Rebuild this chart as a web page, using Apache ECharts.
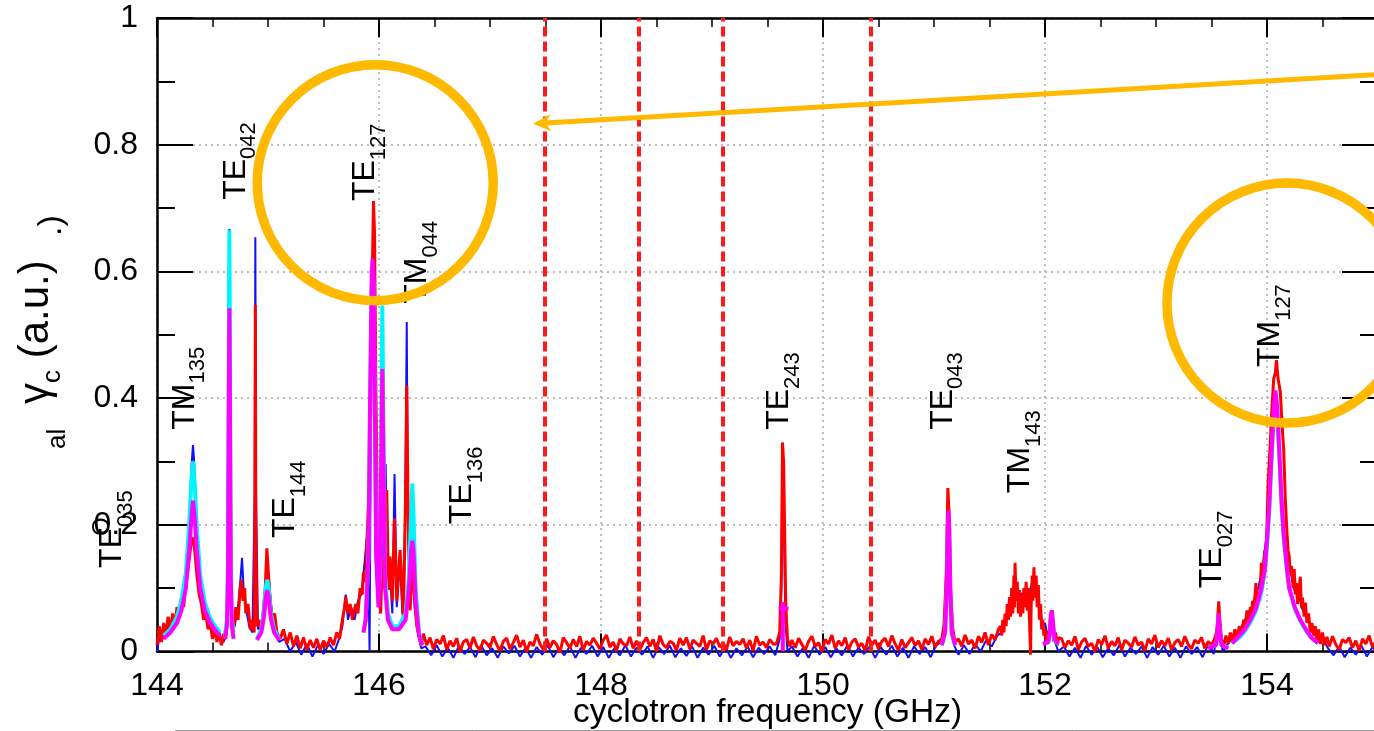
<!DOCTYPE html>
<html><head><meta charset="utf-8">
<script src="https://cdn.jsdelivr.net/npm/echarts@6/dist/echarts.min.js"></script>
<style>html,body{margin:0;padding:0;background:#fff}#c{width:1374px;height:731px}</style>
</head><body><div id="c"></div>
<script>
// ---------------- data ----------------
const xTicks = [144, 146, 148, 150, 152, 154];
const xTickLabels = ['144', '146', '148', '150', '152', '154'];
const yTicks = [0, 0.2, 0.4, 0.6, 0.8, 1];
const yTickLabels = ['0', '0.2', '0.4', '0.6', '0.8', '1'];
const xTitle = 'cyclotron frequency (GHz)';
const dashedLineX = [147.49, 148.345, 149.105, 150.43];

const blueData = [
[144.00,0.0],[144.03,0.03],[144.06,0.02],[144.09,0.045],[144.12,0.035],[144.15,0.055],[144.18,0.05],[144.21,0.075],[144.24,0.09],[144.27,0.14],[144.29,0.2],[144.31,0.29],[144.324,0.326],[144.335,0.3],[144.35,0.22],[144.37,0.15],[144.39,0.11],[144.42,0.075],[144.45,0.06],[144.48,0.04],[144.51,0.035],[144.54,0.025],[144.57,0.02],[144.60,0.015],[144.63,0.03],[144.645,0.3],[144.652,0.667],[144.66,0.3],[144.675,0.04],[144.70,0.04],[144.73,0.07],[144.75,0.11],[144.766,0.148],[144.78,0.1],[144.80,0.07],[144.83,0.04],[144.86,0.03],[144.88,0.25],[144.886,0.654],[144.892,0.25],[144.91,0.035],[144.94,0.04],[144.97,0.08],[144.99,0.13],[145.01,0.11],[145.04,0.05],[145.07,0.03],[145.10,0.015],[145.15,0.02],[145.20,0.0],[145.25,0.015],[145.30,-0.005],[145.35,0.012],[145.40,-0.008],[145.45,0.01],[145.50,-0.004],[145.55,0.012],[145.60,0.0],[145.64,0.02],[145.67,0.04],[145.70,0.09],[145.72,0.05],[145.75,0.07],[145.78,0.05],[145.81,0.08],[145.84,0.09],[145.87,0.14],[145.89,0.18],[145.905,0.12],[145.915,0.0],[145.925,0.3],[145.94,0.58],[145.955,0.6],[145.97,0.35],[145.99,0.12],[146.01,0.08],[146.03,0.2],[146.045,0.1],[146.06,0.296],[146.075,0.1],[146.10,0.12],[146.12,0.06],[146.14,0.28],[146.16,0.07],[146.19,0.145],[146.21,0.06],[146.235,0.2],[146.25,0.52],[146.26,0.2],[146.28,0.08],[146.30,0.14],[146.32,0.07],[146.35,0.03],[146.38,0.005],
[146.42,0.008],[146.47,-0.006],[146.52,0.01],[146.57,-0.008],[146.62,0.006],[146.67,-0.01],[146.72,0.009],[146.77,-0.004],[146.82,0.007],[146.87,-0.009],[146.92,0.01],[146.97,-0.006],[147.02,0.005],[147.07,-0.01],[147.12,0.008],[147.17,-0.003],[147.22,0.009],[147.27,-0.008],[147.32,0.006],[147.37,-0.01],[147.42,0.007],[147.47,-0.005],[147.52,0.01],[147.57,-0.009],[147.62,0.005],[147.67,-0.006],[147.72,0.008],[147.77,-0.01],[147.82,0.006],[147.87,-0.004],[147.92,0.009],[147.97,-0.008],[148.02,0.007],[148.07,-0.01],[148.12,0.005],[148.17,-0.006],[148.22,0.01],[148.27,-0.008],[148.32,0.006],[148.37,-0.005],[148.42,0.008],[148.47,-0.01],[148.52,0.007],[148.57,-0.004],[148.62,0.009],[148.67,-0.009],[148.72,0.005],[148.77,-0.007],[148.82,0.008],[148.87,-0.01],[148.92,0.006],[148.97,-0.005],[149.02,0.009],[149.07,-0.008],[149.12,0.007],[149.17,-0.01],[149.22,0.005],[149.27,-0.006],[149.32,0.008],[149.37,-0.009],[149.42,0.006],[149.47,-0.004],[149.52,0.008],[149.57,-0.006],
[149.61,0.02],[149.625,0.1],[149.635,0.3],[149.645,0.25],[149.66,0.05],[149.68,0.0],
[149.72,0.008],[149.77,-0.008],[149.82,0.006],[149.87,-0.01],[149.92,0.009],[149.97,-0.005],[150.02,0.007],[150.07,-0.009],[150.12,0.005],[150.17,-0.006],[150.22,0.01],[150.27,-0.008],[150.32,0.006],[150.37,-0.004],[150.42,0.008],[150.47,-0.01],[150.52,0.007],[150.57,-0.005],[150.62,0.009],[150.67,-0.008],[150.72,0.006],[150.77,-0.01],[150.82,0.008],[150.87,-0.004],[150.92,0.007],[150.97,-0.009],[151.02,0.01],[151.07,0.015],
[151.10,0.06],[151.12,0.2],[151.13,0.19],[151.15,0.06],[151.18,0.01],
[151.22,-0.005],[151.27,0.01],[151.32,-0.004],[151.37,0.012],[151.42,0.0],[151.47,0.018],[151.52,0.008],[151.57,0.025],[151.61,0.03],
[151.64,0.05],[151.67,0.07],[151.70,0.09],[151.73,0.1],[151.76,0.08],[151.79,0.09],[151.82,0.1],[151.85,0.085],[151.89,0.113],[151.92,0.095],[151.95,0.07],[151.98,0.04],[152.00,0.045],[152.03,0.02],[152.06,0.05],[152.09,0.015],[152.12,0.0],
[152.17,0.008],[152.22,-0.008],[152.27,0.006],[152.32,-0.01],[152.37,0.009],[152.42,-0.005],[152.47,0.007],[152.52,-0.009],[152.57,0.005],[152.62,-0.006],[152.67,0.01],[152.72,-0.008],[152.77,0.006],[152.82,-0.004],[152.87,0.008],[152.92,-0.01],[152.97,0.007],[153.02,-0.005],[153.07,0.009],[153.12,-0.008],[153.17,0.006],[153.22,-0.01],[153.27,0.008],[153.32,-0.004],[153.37,0.007],[153.42,-0.009],[153.47,0.01],[153.52,-0.004],
[153.55,0.03],[153.565,0.06],[153.58,0.03],[153.60,0.0],
[153.64,0.01],[153.68,0.02],[153.72,0.025],[153.76,0.035],[153.80,0.05],[153.84,0.06],[153.88,0.08],[153.92,0.1],[153.96,0.13],[154.00,0.19],[154.03,0.28],[154.06,0.36],[154.08,0.38],[154.10,0.35],[154.13,0.26],[154.16,0.18],[154.19,0.14],[154.22,0.12],[154.25,0.095],[154.28,0.1],[154.31,0.07],[154.35,0.055],[154.40,0.04],[154.45,0.03],[154.50,0.02],[154.55,0.005],
[154.60,-0.006],[154.65,0.008],[154.70,-0.009],[154.75,0.006],[154.80,-0.005],[154.85,0.009],[154.90,-0.008],[154.95,0.007],[155.00,-0.004]
];

const redData = [
[144.00,0.01],[144.02,0.04],[144.04,0.015],[144.06,0.045],[144.08,0.025],[144.10,0.055],[144.12,0.03],[144.14,0.06],[144.16,0.04],[144.18,0.07],[144.20,0.055],[144.22,0.085],[144.24,0.07],[144.26,0.11],[144.28,0.13],[144.30,0.16],[144.315,0.18],[144.33,0.175],[144.345,0.15],[144.36,0.12],[144.38,0.09],[144.40,0.075],[144.42,0.05],[144.44,0.06],[144.46,0.035],[144.48,0.045],[144.50,0.02],[144.52,0.035],[144.54,0.015],[144.56,0.03],[144.58,0.01],[144.60,0.028],[144.62,0.02],[144.635,0.06],[144.645,0.3],[144.652,0.5],[144.66,0.3],[144.67,0.06],[144.69,0.035],[144.71,0.07],[144.73,0.05],[144.75,0.1],[144.76,0.113],[144.775,0.08],[144.79,0.1],[144.80,0.06],[144.82,0.075],[144.84,0.035],[144.86,0.05],[144.875,0.03],[144.882,0.2],[144.886,0.547],[144.89,0.2],[144.90,0.04],[144.92,0.05],[144.94,0.03],[144.96,0.07],[144.975,0.1],[144.99,0.163],[145.005,0.12],[145.02,0.08],[145.04,0.05],[145.06,0.06],[145.08,0.03],
[145.11,0.02],[145.14,0.035],[145.17,0.012],[145.20,0.03],[145.23,0.008],[145.26,0.025],[145.29,0.005],[145.32,0.022],[145.35,0.003],[145.38,0.018],[145.41,0.006],[145.44,0.02],[145.47,0.002],[145.50,0.017],[145.53,0.007],[145.56,0.022],[145.59,0.01],[145.62,0.03],[145.645,0.02],
[145.67,0.05],[145.69,0.07],[145.70,0.086],[145.72,0.06],[145.74,0.075],[145.76,0.05],[145.79,0.075],[145.81,0.06],[145.83,0.1],[145.85,0.09],[145.86,0.125],[145.88,0.11],[145.89,0.17],[145.91,0.25],[145.925,0.4],[145.94,0.6],[145.95,0.711],[145.96,0.66],[145.97,0.45],[145.985,0.2],[146.00,0.1],[146.015,0.06],[146.03,0.15],[146.045,0.12],[146.06,0.2],[146.07,0.255],[146.085,0.097],[146.10,0.15],[146.12,0.08],[146.14,0.21],[146.16,0.08],[146.19,0.16],[146.22,0.05],[146.24,0.25],[146.25,0.42],[146.26,0.25],[146.28,0.065],[146.30,0.13],[146.32,0.09],[146.34,0.04],[146.36,0.025],[146.38,0.01],
[146.40,0.028],[146.43,0.010],[146.46,0.022],[146.49,0.004],[146.52,0.019],[146.55,0.012],[146.58,0.025],[146.61,0.003],[146.64,0.017],[146.67,0.008],[146.70,0.021],[146.73,0.000],[146.76,0.015],[146.79,0.019],[146.82,0.005],[146.85,0.023],[146.88,0.009],[146.91,0.002],[146.94,0.018],[146.97,0.013],[147.00,0.006],[147.03,0.024],[147.06,0.011],[147.09,0.001],[147.12,0.016],[147.15,0.021],[147.18,0.004],[147.21,0.014],[147.24,0.026],[147.27,0.007],[147.30,0.018],[147.33,0.000],[147.36,0.015],[147.39,0.009],[147.42,0.027],[147.45,0.012],[147.48,0.003],[147.51,0.020],[147.54,0.006],[147.57,0.017],[147.60,0.011],[147.63,-0.002],[147.66,0.022],[147.69,0.014],[147.72,0.005],[147.75,0.019],[147.78,0.008],[147.81,0.024],[147.84,0.002],[147.87,0.016],[147.90,0.010],[147.93,0.021],[147.96,0.013],[147.99,0.004],[148.02,0.018],[148.05,0.026],[148.08,0.007],[148.11,0.015],[148.14,0.001],[148.17,0.020],[148.20,0.012],[148.23,0.009],[148.26,0.023],[148.29,0.005],[148.32,0.017],[148.35,0.003],[148.38,0.014],[148.41,0.022],[148.44,0.008],[148.47,0.019],[148.50,0.000],[148.53,0.025],[148.56,0.011],[148.59,0.006],[148.62,0.016],[148.65,0.013],[148.68,0.002],[148.71,0.021],[148.74,0.010],[148.77,0.022],[148.80,0.004],[148.83,0.018],[148.86,0.013],[148.89,0.008],[148.92,0.025],[148.95,0.003],[148.98,0.017],[149.01,0.012],[149.04,0.021],[149.07,0.007],[149.10,0.014],[149.13,0.003],[149.16,0.023],[149.19,0.009],[149.22,0.016],[149.25,0.011],[149.28,0.020],[149.31,0.005],[149.34,0.018],[149.37,0.001],[149.40,0.024],[149.43,0.010],[149.46,0.015],[149.49,0.006],[149.52,0.019],[149.55,0.012],
[149.58,0.012],[149.61,0.03],[149.625,0.12],[149.635,0.33],[149.645,0.3],[149.655,0.184],[149.665,0.07],[149.68,0.02],[149.70,0.008],
[149.72,0.018],[149.75,0.006],[149.78,0.021],[149.81,0.011],[149.84,0.002],[149.87,0.016],[149.90,0.024],[149.93,0.008],[149.96,0.014],[149.99,0.000],[150.02,0.019],[150.05,0.012],[150.08,0.026],[150.11,0.005],[150.14,0.017],[150.17,0.009],[150.20,0.022],[150.23,0.003],[150.26,0.015],[150.29,0.020],[150.32,0.007],[150.35,0.013],[150.38,0.001],[150.41,0.023],[150.44,0.010],[150.47,0.018],[150.50,0.004],[150.53,0.016],[150.56,0.021],[150.59,0.008],[150.62,0.025],[150.65,0.012],[150.68,0.002],[150.71,0.019],[150.74,0.006],[150.77,0.014],[150.80,0.022],[150.83,0.009],[150.86,0.017],[150.89,0.003],[150.92,0.020],[150.95,0.011],[150.98,0.024],[151.01,0.007],[151.04,0.016],
[151.07,0.02],[151.09,0.04],[151.11,0.12],[151.125,0.258],[151.135,0.22],[151.15,0.09],[151.17,0.035],[151.19,0.015],
[151.22,0.02],[151.25,0.008],[151.28,0.026],[151.31,0.012],[151.34,0.018],[151.37,0.005],[151.40,0.024],[151.43,0.014],[151.46,0.03],[151.49,0.01],[151.52,0.027],[151.55,0.018],[151.58,0.035],
[151.60,0.04],[151.61,0.025],[151.62,0.05],[151.63,0.03],[151.64,0.06],[151.65,0.04],[151.66,0.075],[151.67,0.05],[151.68,0.086],[151.69,0.055],[151.70,0.1],[151.71,0.06],[151.72,0.12],[151.725,0.07],[151.73,0.14],[151.74,0.08],[151.75,0.11],[151.76,0.06],[151.77,0.097],[151.78,0.055],[151.79,0.09],[151.80,0.06],[151.81,0.1],[151.82,0.07],[151.83,0.11],[151.84,0.065],[151.85,0.1],[151.86,0.05],[151.87,-0.005],[151.875,0.07],[151.885,0.12],[151.89,0.08],[151.90,0.133],[151.91,0.085],[151.92,0.12],[151.93,0.07],[151.94,0.105],[151.95,0.05],[151.96,0.075],[151.97,0.035],[151.98,0.05],[151.99,0.025],[152.00,0.035],[152.01,0.015],[152.02,0.03],[152.035,0.02],[152.05,0.06],[152.06,0.04],[152.07,0.05],[152.08,0.015],[152.095,0.03],[152.11,0.01],[152.125,0.022],
[152.15,0.020],[152.18,0.006],[152.21,0.017],[152.24,0.010],[152.27,0.024],[152.30,0.003],[152.33,0.015],[152.36,0.021],[152.39,0.008],[152.42,0.013],[152.45,0.000],[152.48,0.019],[152.51,0.011],[152.54,0.025],[152.57,0.005],[152.60,0.016],[152.63,0.009],[152.66,0.022],[152.69,0.002],[152.72,0.018],[152.75,0.013],[152.78,0.007],[152.81,0.023],[152.84,0.010],[152.87,0.015],[152.90,0.001],[152.93,0.020],[152.96,0.012],[152.99,0.026],[153.02,0.006],[153.05,0.017],[153.08,0.009],[153.11,0.021],[153.14,0.003],[153.17,0.014],[153.20,0.019],[153.23,0.008],[153.26,0.024],[153.29,0.011],[153.32,0.004],[153.35,0.018],[153.38,0.013],[153.41,0.022],[153.44,0.005],[153.47,0.016],[153.50,0.010],[153.53,0.021],
[153.545,0.03],[153.555,0.05],[153.565,0.079],[153.575,0.05],[153.59,0.02],
[153.61,0.008],[153.63,0.025],[153.65,0.012],[153.67,0.03],[153.69,0.015],[153.71,0.035],[153.73,0.02],[153.75,0.04],[153.77,0.025],[153.79,0.05],[153.80,0.035],[153.82,0.065],[153.83,0.04],[153.85,0.07],[153.86,0.05],[153.87,0.08],[153.88,0.06],[153.90,0.108],[153.91,0.075],[153.92,0.095],[153.935,0.08],[153.95,0.14],[153.96,0.11],[153.98,0.16],[153.99,0.15],[154.00,0.2],[154.01,0.265],[154.03,0.33],[154.04,0.37],[154.06,0.43],[154.075,0.44],[154.085,0.46],[154.10,0.43],[154.12,0.41],[154.135,0.36],[154.15,0.32],[154.165,0.24],[154.18,0.187],[154.19,0.16],[154.20,0.15],[154.21,0.12],[154.22,0.135],[154.235,0.1],[154.245,0.13],[154.255,0.09],[154.265,0.108],[154.275,0.075],[154.29,0.1],[154.30,0.118],[154.31,0.07],[154.32,0.085],[154.335,0.055],[154.345,0.077],[154.36,0.045],[154.375,0.06],[154.39,0.03],[154.405,0.045],[154.42,0.025],[154.435,0.04],[154.45,0.015],[154.465,0.035],[154.48,0.012],[154.50,0.03],[154.52,0.01],[154.54,0.023],
[154.56,0.008],[154.59,0.024],[154.62,0.011],[154.65,0.003],[154.68,0.019],[154.71,0.014],[154.74,0.022],[154.77,0.006],[154.80,0.017],[154.83,0.001],[154.86,0.020],[154.89,0.012],[154.92,0.025],[154.95,0.007],[154.98,0.016],[155.00,0.010]
];

const cyanFits = [
[[144.06,0.025],[144.12,0.035],[144.18,0.055],[144.22,0.08],[144.26,0.125],[144.29,0.2],[144.31,0.27],[144.324,0.3],[144.34,0.265],[144.36,0.19],[144.39,0.12],[144.43,0.078],[144.48,0.052],[144.53,0.038],[144.57,0.03]],
[[144.61,0.025],[144.63,0.05],[144.64,0.15],[144.647,0.5],[144.652,0.665],[144.657,0.5],[144.664,0.15],[144.675,0.05],[144.69,0.03]],
[[144.90,0.02],[144.94,0.035],[144.965,0.065],[144.98,0.1],[144.993,0.113],[145.006,0.1],[145.025,0.06],[145.055,0.035],[145.10,0.02]],
[[145.86,0.03],[145.88,0.05],[145.905,0.15],[145.92,0.4],[145.935,0.58],[145.942,0.6],[145.95,0.58],[145.962,0.4],[145.975,0.15],[145.995,0.09],[146.01,0.12],[146.02,0.35],[146.03,0.546],[146.04,0.35],[146.055,0.12],[146.08,0.06],[146.12,0.04],[146.18,0.04],[146.24,0.06],[146.27,0.12],[146.29,0.22],[146.30,0.265],[146.31,0.22],[146.33,0.1],[146.36,0.03],[146.39,0.01]],
[[151.07,0.01],[151.10,0.03],[151.115,0.095],[151.125,0.19],[151.131,0.21],[151.137,0.19],[151.147,0.095],[151.16,0.03],[151.19,0.01]],
[[151.98,0.012],[152.03,0.014],[152.045,0.028],[152.055,0.055],[152.062,0.06],[152.07,0.045],[152.085,0.018],[152.12,0.012]],
[[153.47,0.006],[153.54,0.01],[153.555,0.028],[153.565,0.055],[153.575,0.028],[153.59,0.01],[153.65,0.006]],
[[153.685,0.013],[153.75,0.022],[153.80,0.032],[153.85,0.046],[153.90,0.064],[153.95,0.094],[153.98,0.125],[154.00,0.165],[154.02,0.22],[154.04,0.3],[154.06,0.37],[154.075,0.4],[154.09,0.38],[154.11,0.31],[154.13,0.235],[154.15,0.18],[154.18,0.128],[154.20,0.1],[154.25,0.068],[154.30,0.048],[154.35,0.033],[154.40,0.021],[154.46,0.013]]
];

const magentaFits = [
[[144.06,0.02],[144.12,0.03],[144.18,0.045],[144.22,0.065],[144.26,0.1],[144.29,0.16],[144.31,0.21],[144.324,0.238],[144.34,0.21],[144.36,0.155],[144.39,0.1],[144.43,0.065],[144.48,0.045],[144.53,0.032],[144.57,0.025]],
[[144.61,0.02],[144.63,0.04],[144.64,0.12],[144.647,0.4],[144.652,0.542],[144.657,0.4],[144.664,0.12],[144.675,0.04],[144.69,0.02]],
[[144.90,0.018],[144.94,0.03],[144.965,0.056],[144.98,0.085],[144.993,0.097],[145.006,0.085],[145.025,0.052],[145.055,0.03],[145.10,0.018]],
[[145.86,0.03],[145.88,0.05],[145.905,0.15],[145.92,0.4],[145.935,0.6],[145.942,0.62],[145.95,0.6],[145.962,0.4],[145.975,0.15],[145.995,0.07],[146.005,0.1],[146.02,0.3],[146.03,0.446],[146.04,0.3],[146.055,0.1],[146.08,0.05],[146.12,0.035],[146.18,0.035],[146.24,0.05],[146.27,0.1],[146.29,0.16],[146.30,0.175],[146.31,0.16],[146.33,0.08],[146.36,0.025],[146.39,0.01]],
[[149.60,0.068],[149.69,0.068]],
[[149.638,0.0],[149.638,0.078]],
[[151.07,0.01],[151.10,0.03],[151.115,0.1],[151.125,0.2],[151.131,0.223],[151.137,0.2],[151.147,0.1],[151.16,0.03],[151.19,0.01]],
[[151.98,0.012],[152.03,0.015],[152.045,0.03],[152.055,0.06],[152.062,0.065],[152.07,0.05],[152.085,0.02],[152.12,0.012]],
[[153.47,0.005],[153.54,0.01],[153.555,0.03],[153.565,0.06],[153.575,0.03],[153.59,0.01],[153.65,0.005]],
[[153.685,0.013],[153.75,0.025],[153.80,0.035],[153.85,0.05],[153.90,0.068],[153.95,0.1],[153.98,0.13],[154.00,0.175],[154.02,0.23],[154.04,0.31],[154.06,0.38],[154.075,0.412],[154.09,0.39],[154.11,0.32],[154.13,0.24],[154.15,0.185],[154.18,0.13],[154.20,0.1],[154.25,0.07],[154.30,0.05],[154.35,0.035],[154.40,0.022],[154.46,0.013]]
];

// mode labels: text anchored at (frequency, value) of its start
const modeNames = ['TE','TM','TE','TE','TE','TM','TE','TE','TE','TM','TE','TM'];
const modeSubs  = ['035','135','042','144','127','044','136','243','043','143','027','127'];
const modeX     = [143.597,144.251,144.71,145.156,145.876,146.345,146.75,149.605,151.08,151.78,153.509,154.03];
const modeY     = [0.132,0.35,0.713,0.179,0.711,0.549,0.201,0.35,0.35,0.25,0.1,0.449];

// annotation circles (centre in data units, radius in px) and arrow (data units)
const circleCentres = [[145.966, 0.74], [154.18, 0.55]];
const arrowFrom = [155.02, 0.911];
const arrowTo = [147.39, 0.833];

// ---------------- chart ----------------
const FONT = '"Liberation Sans", Arial, Helvetica, sans-serif';
const ORANGE = '#FFB900';
function joinWindows(wins) {
  const out = [];
  wins.forEach((w, i) => { if (i) out.push(['-', '-']); w.forEach(p => out.push(p)); });
  return out;
}
function tickLabel(ticks, labels) {
  return v => { const i = ticks.findIndex(t => Math.abs(t - v) < 1e-6); return i >= 0 ? labels[i] : ''; };
}
const axisLineStyle = { color: '#000', width: 2.5 };
const gridLine = { show: true, lineStyle: { color: '#bdbdbd', width: 2, type: [2, 4] } };

const chart = echarts.init(document.getElementById('c'), null, { renderer: 'canvas' });
const option = {
  animation: false,
  backgroundColor: '#fff',
  grid: { left: 157, right: -4, top: 18, bottom: 79.5, outerBoundsMode: 'none' },
  xAxis: [
    { type: 'value', min: 144, max: 155, interval: 2, position: 'bottom',
      axisLine: { show: true, onZero: false, lineStyle: axisLineStyle },
      axisTick: { show: true, inside: true, length: 18, lineStyle: { color: '#000', width: 2 } },
      minorTick: { show: true, splitNumber: 4, length: 9, lineStyle: { color: '#000', width: 1.5 } },
      axisLabel: { show: true, fontSize: 32, color: '#000', fontFamily: FONT, margin: 19,
        showMaxLabel: false, formatter: tickLabel(xTicks, xTickLabels) },
      splitLine: gridLine },
    { type: 'value', min: 144, max: 155, interval: 2, position: 'top',
      axisLine: { show: true, onZero: false, lineStyle: axisLineStyle },
      axisTick: { show: true, inside: true, length: 19, lineStyle: { color: '#000', width: 2 } },
      minorTick: { show: true, splitNumber: 4, length: 9, lineStyle: { color: '#000', width: 1.5 } },
      axisLabel: { show: false }, splitLine: { show: false } }
  ],
  yAxis: [
    { type: 'value', min: 0, max: 1, interval: 0.2, position: 'left',
      axisLine: { show: true, onZero: false, lineStyle: axisLineStyle },
      axisTick: { show: true, inside: true, length: 36, lineStyle: { color: '#000', width: 2 } },
      minorTick: { show: true, splitNumber: 2, length: 18, lineStyle: { color: '#000', width: 2 } },
      axisLabel: { show: true, fontSize: 32, color: '#000', fontFamily: FONT, margin: 19,
        formatter: tickLabel(yTicks, yTickLabels) },
      splitLine: gridLine },
    { type: 'value', min: 0, max: 1, interval: 0.2, position: 'right',
      axisLine: { show: true, onZero: false, lineStyle: axisLineStyle },
      axisTick: { show: true, inside: true, length: 36, lineStyle: { color: '#000', width: 2 } },
      minorTick: { show: true, splitNumber: 2, length: 18, lineStyle: { color: '#000', width: 2 } },
      axisLabel: { show: false }, splitLine: { show: false } }
  ],
  series: [
    { name: 'blue', type: 'line', xAxisIndex: 0, yAxisIndex: 0, data: blueData, showSymbol: false, clip: false,
      lineStyle: { color: '#1010ff', width: 2 }, itemStyle: { color: '#1010ff' }, z: 2,
      markLine: { silent: true, symbol: ['none', 'none'], label: { show: false },
        lineStyle: { color: '#ff1a1a', width: 4, type: [10, 5] },
        data: dashedLineX.map(v => ({ xAxis: v })) } },
    { name: 'red', type: 'line', xAxisIndex: 0, yAxisIndex: 0, data: redData, showSymbol: false, clip: false,
      lineStyle: { color: '#ff0000', width: 3 }, itemStyle: { color: '#ff0000' }, z: 3 },
    { name: 'cyan', type: 'line', xAxisIndex: 0, yAxisIndex: 0, data: joinWindows(cyanFits), showSymbol: false,
      connectNulls: false, lineStyle: { color: '#00f4ff', width: 4 }, itemStyle: { color: '#00f4ff' }, z: 4 },
    { name: 'magenta', type: 'line', xAxisIndex: 0, yAxisIndex: 0, data: joinWindows(magentaFits), showSymbol: false,
      connectNulls: false, lineStyle: { color: '#ff00ff', width: 4 }, itemStyle: { color: '#ff00ff' }, z: 5 }
  ]
};
chart.setOption(option);

// ---------------- annotations ----------------
const toPx = p => chart.convertToPixel({ xAxisIndex: 0, yAxisIndex: 0 }, p);
const graphics = [];
// x axis title, centred under the plot
const titleX = toPx([149.5, 0])[0];
graphics.push({ type: 'text', x: titleX, y: 713, z: 100, silent: true,
  style: { text: xTitle, fontSize: 33.5, fontFamily: FONT, fill: '#000', align: 'center', verticalAlign: 'middle' } });
modeNames.forEach((m, i) => {
  const p = toPx([modeX[i], modeY[i]]);
  graphics.push({ type: 'text', x: p[0], y: p[1], rotation: Math.PI / 2, z: 100, silent: true,
    style: { text: '{m|' + m + '}{s|' + modeSubs[i] + '}', align: 'left', verticalAlign: 'middle', fill: '#000',
      rich: { m: { fontSize: 32, lineHeight: 49, verticalAlign: 'middle', fontFamily: FONT, fill: '#000' },
              s: { fontSize: 22, lineHeight: 22, verticalAlign: 'bottom', fontFamily: FONT, fill: '#000' } } } });
});
// stray "O" glyph over TE035
graphics.push({ type: 'text', x: 102, y: 536, rotation: Math.PI / 2, z: 101, silent: true,
  style: { text: 'O', fontSize: 24, fontFamily: FONT, fill: '#000', align: 'left', verticalAlign: 'middle' } });
// y axis title and fragments
graphics.push({ type: 'text', x: 36, y: 404, rotation: Math.PI / 2, z: 100, silent: true,
  style: { text: '{m|γ}{s|c}{m| (a.u.)}', align: 'left', verticalAlign: 'middle', fill: '#000',
    rich: { m: { fontSize: 42, lineHeight: 60, verticalAlign: 'middle', fontFamily: FONT, fill: '#000' },
            s: { fontSize: 26, lineHeight: 26, verticalAlign: 'bottom', fontFamily: FONT, fill: '#000' } } } });
graphics.push({ type: 'text', x: 58, y: 449, rotation: Math.PI / 2, z: 100, silent: true,
  style: { text: 'al', fontSize: 26, fontFamily: FONT, fill: '#000', align: 'left', verticalAlign: 'middle' } });
graphics.push({ type: 'text', x: 52, y: 236, rotation: Math.PI / 2, z: 100, silent: true,
  style: { text: '.)', fontSize: 34, fontFamily: FONT, fill: '#000', align: 'left', verticalAlign: 'middle' } });
// orange circles
const circleR = [118, 120];
circleCentres.forEach((c, i) => {
  const p = toPx(c);
  graphics.push({ type: 'circle', z: 120, silent: true, shape: { cx: p[0], cy: p[1], r: circleR[i] },
    style: { fill: 'none', stroke: ORANGE, lineWidth: 9.5 } });
});
// orange arrow
const a0 = toPx(arrowFrom), a1 = toPx(arrowTo);
graphics.push({ type: 'line', z: 120, silent: true, shape: { x1: a0[0], y1: a0[1], x2: a1[0] + 4, y2: a1[1] - 0.3 },
  style: { stroke: ORANGE, lineWidth: 5 } });
const ang = Math.atan2(a0[1] - a1[1], a0[0] - a1[0]);
const headLen = 20, headSpread = 0.45;
graphics.push({ type: 'polygon', z: 121, silent: true, shape: { points: [
  [a1[0], a1[1]],
  [a1[0] + headLen * Math.cos(ang - headSpread), a1[1] + headLen * Math.sin(ang - headSpread)],
  [a1[0] + headLen * 0.6 * Math.cos(ang), a1[1] + headLen * 0.6 * Math.sin(ang)],
  [a1[0] + headLen * Math.cos(ang + headSpread), a1[1] + headLen * Math.sin(ang + headSpread)] ] },
  style: { fill: ORANGE } });
// thin grey rule at the very bottom
graphics.push({ type: 'line', z: 90, silent: true, shape: { x1: 175, y1: 730.5, x2: 1374, y2: 730.5 },
  style: { stroke: '#9a9a9a', lineWidth: 1 } });
chart.setOption({ graphic: graphics });
</script>
</body></html>
